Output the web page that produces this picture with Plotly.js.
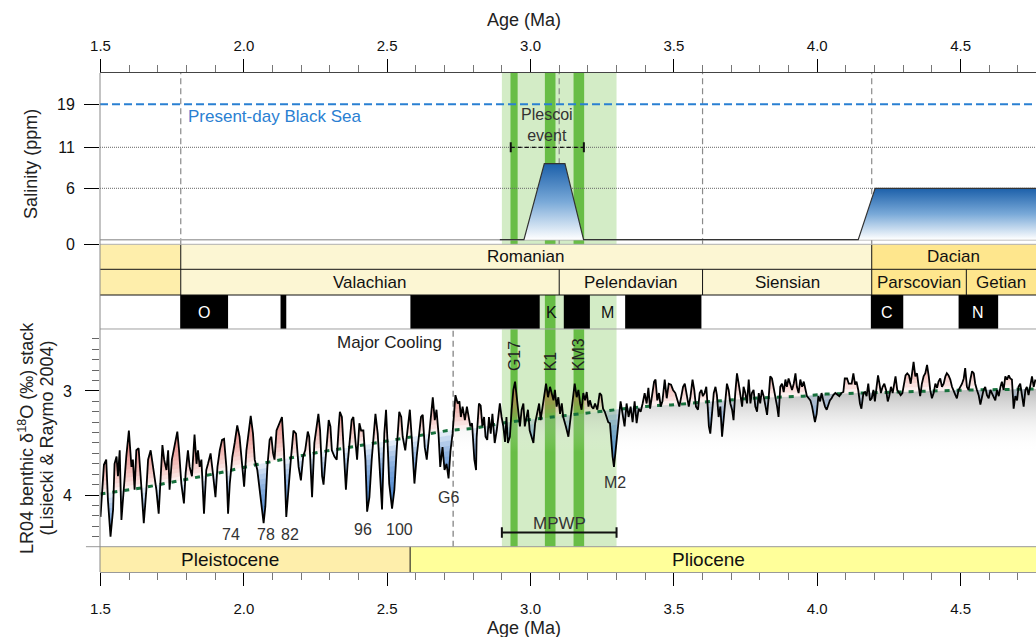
<!DOCTYPE html>
<html><head><meta charset="utf-8">
<script src="https://cdn.plot.ly/plotly-3.0.1.min.js"></script>
<style>html,body{margin:0;padding:0;background:#fff}#chart{width:1036px;height:637px}</style>
</head><body><div id="chart"></div>
<script>
// ---------------- DATA ----------------
// LR04 benthic d18O stack
const lrAge = [
1.500,1.505,1.512,1.520,1.526,1.535,1.544,1.549,1.556,1.561,1.567,1.573,1.582,1.590,1.599,1.608,1.613,1.619,1.625,1.633,
1.640,1.651,1.660,1.666,1.675,1.683,1.689,1.695,1.703,1.710,1.716,1.722,1.730,1.736,1.741,1.749,1.759,1.768,1.774,1.782,
1.791,1.797,1.805,1.811,1.819,1.828,1.835,1.840,1.846,1.852,1.861,1.869,1.875,1.884,1.892,1.901,1.908,1.916,1.924,1.931,
1.939,1.945,1.951,1.960,1.968,1.977,1.985,1.991,2.001,2.009,2.017,2.024,2.032,2.038,2.047,2.055,2.063,2.069,2.075,2.082,
2.090,2.096,2.102,2.107,2.114,2.125,2.133,2.140,2.148,
2.164,2.173,2.182,2.191,2.199,2.207,2.214,2.223,2.228,2.238,2.246,2.254,2.260,2.266,2.273,2.278,2.287,2.296,2.302,2.307,
2.316,2.324,2.331,2.335,2.342,2.347,2.356,2.362,2.368,2.376,2.382,2.389,2.395,2.403,2.409,2.417,2.424,2.430,2.438,2.446,
2.453,2.459,2.467,2.473,2.482,2.490,2.496,2.502,2.507,2.517,2.525,2.533,2.542,2.549,2.554,2.563,2.571,2.579,2.586,2.595,
2.603,2.610,2.618,2.624,2.631,2.638,2.645,2.652,2.659,2.666,2.672,2.679,2.685,2.693,2.700,2.707,2.714,2.721,2.728,2.738,
2.746,2.752,2.757,2.763,2.771,2.778,2.784,2.790,2.796,2.804,2.810,
2.812,2.820,2.826,2.832,2.838,2.843,2.849,2.855,2.861,2.867,2.875,2.882,2.888,2.893,2.899,2.905,2.911,2.916,2.921,2.928,
2.934,2.940,2.946,2.952,2.957,2.963,2.969,2.975,2.980,2.985,2.991,2.997,3.003,3.010,3.016,3.024,3.030,3.035,3.041,3.047,
3.054,3.061,3.068,3.074,3.080,3.085,3.091,3.097,3.103,3.109,3.114,3.123,3.132,3.140,3.147,3.154,3.161,3.167,3.173,3.178,
3.184,3.190,3.196,3.202,3.207,3.213,3.219,3.225,3.233,3.241,3.247,3.253,3.259,3.266,3.271,3.277,3.282,3.286,3.291,3.297,
3.303,3.309,3.314,3.321,3.328,3.335,3.342,3.349,3.356,3.363,3.370,3.377,3.384,3.391,3.398,3.405,3.411,3.417,3.424,3.431,
3.436,3.442,3.448,3.454,3.460,
3.468,3.475,3.482,3.490,3.497,3.505,3.512,3.519,3.526,3.532,3.538,3.545,3.552,3.558,3.565,3.571,3.577,3.584,3.590,3.596,
3.601,3.607,3.613,3.618,3.622,3.627,3.633,3.639,3.645,3.650,3.656,3.662,3.668,3.674,3.679,3.685,3.691,3.697,3.703,3.708,
3.714,3.720,3.726,3.732,3.738,3.743,3.749,3.755,3.761,3.767,3.772,3.778,3.784,3.790,3.796,3.801,3.807,3.813,3.819,3.825,
3.831,3.836,3.842,3.848,3.854,3.860,3.865,3.871,3.877,3.883,3.889,3.894,3.900,3.906,3.912,3.918,3.924,3.929,3.935,3.941,
3.947,3.953,3.958,3.964,3.970,3.976,3.982,3.987,3.992,3.998,4.004,4.010,4.015,4.021,4.027,4.033,4.039,4.044,4.050,4.056,
4.063,4.070,4.077,4.084,4.091,4.096,4.104,4.110,
4.120,4.126,4.132,4.137,4.143,4.149,4.154,4.161,4.167,4.172,4.178,4.184,4.190,4.196,4.201,4.207,4.212,4.217,4.222,4.228,
4.234,4.240,4.246,4.251,4.257,4.263,4.269,4.273,4.279,4.285,4.291,4.297,4.303,4.308,4.314,4.320,4.326,4.332,4.336,4.342,
4.348,4.354,4.359,4.365,4.371,4.377,4.383,4.389,4.394,4.400,4.406,4.412,4.418,4.423,4.429,4.435,4.441,4.447,4.452,4.458,
4.464,4.470,4.476,4.482,4.487,4.493,4.499,4.505,4.511,4.516,4.522,4.528,4.534,4.540,4.546,4.551,4.557,4.563,4.569,4.575,
4.580,4.586,4.592,4.598,4.604,4.609,4.615,4.621,4.627,4.633,4.639,4.644,4.650,4.656,4.662,4.668,4.673,4.679,4.685,4.691,
4.697,4.702,4.708,4.714,4.720,4.726,4.731,4.737,4.743,4.749,4.755,4.761];
const lrD18O = [
4.21,4.02,3.71,3.66,4.05,4.40,4.14,3.70,3.63,3.82,3.57,4.24,3.89,3.63,3.38,3.73,3.66,3.95,3.57,3.55,
3.82,4.27,3.95,3.66,3.57,3.73,3.82,3.95,4.18,3.76,3.52,3.66,3.76,3.57,3.95,3.66,3.50,3.39,3.57,3.89,
4.08,3.79,3.57,3.73,3.82,3.42,3.70,3.57,3.73,3.66,4.18,3.76,3.70,3.60,3.79,4.02,3.73,3.57,3.47,3.46,
3.73,4.18,3.89,3.63,3.50,3.33,3.44,3.60,3.92,3.57,3.38,3.24,3.41,3.66,3.76,3.95,4.11,4.27,4.11,3.73,
3.47,3.44,3.60,3.66,3.38,3.31,3.25,3.57,4.21,
3.66,3.38,3.41,3.73,3.86,3.63,3.57,3.39,3.44,4.02,3.50,3.34,3.22,3.38,3.82,3.90,3.57,3.28,3.34,3.57,
3.63,3.66,3.34,3.20,3.25,3.50,3.95,3.70,3.50,3.28,3.25,3.44,3.66,3.31,3.38,3.38,3.66,4.16,4.02,3.66,
3.38,3.22,3.41,3.76,4.14,3.41,3.18,3.54,3.89,4.13,3.95,3.57,3.20,3.25,3.44,3.57,3.38,3.18,3.47,3.89,
3.63,3.44,3.25,3.23,3.54,3.66,3.44,3.25,3.06,3.28,3.18,3.41,3.73,3.54,3.76,3.70,3.84,3.57,3.41,3.04,
3.12,3.10,3.25,3.15,3.28,3.15,3.25,3.34,3.31,3.66,3.76,
3.45,3.12,3.14,3.34,3.25,3.44,3.47,3.25,3.41,3.22,3.50,3.38,3.25,3.12,3.25,3.34,3.49,3.25,3.50,3.44,
3.18,2.99,2.91,3.06,3.25,3.34,3.18,3.12,3.34,3.25,3.18,3.38,3.44,3.50,3.31,3.18,3.12,3.28,3.15,3.06,
2.93,3.06,2.96,3.02,3.09,2.99,3.15,3.06,3.22,3.12,3.25,3.34,3.44,3.25,3.09,2.93,3.06,2.99,3.12,3.18,
3.02,3.09,3.01,3.15,3.09,3.15,3.17,3.12,3.18,3.02,3.04,3.17,3.20,3.25,3.30,3.31,3.50,3.63,3.73,3.57,
3.34,3.25,3.10,3.22,3.34,3.12,3.25,3.15,3.30,3.10,3.31,3.17,3.20,3.12,3.02,3.12,2.97,3.17,3.04,2.91,
2.89,3.09,3.02,3.15,3.10,
2.89,3.07,2.93,2.94,2.99,3.02,3.10,3.15,3.05,2.96,2.93,3.04,3.15,3.05,2.89,2.99,3.15,3.18,3.02,2.99,
3.05,3.02,2.96,3.15,3.34,3.41,3.22,3.02,2.96,3.04,3.25,3.15,3.44,3.25,3.09,2.93,2.99,3.12,3.18,3.28,
3.02,2.83,2.93,3.05,3.15,2.96,3.02,3.12,2.89,3.12,3.02,2.99,3.15,3.20,3.02,3.12,2.99,3.05,3.15,3.23,
3.05,2.86,2.88,2.96,3.07,3.15,3.25,2.96,2.93,3.01,2.89,2.96,2.88,2.93,2.99,2.93,2.83,2.96,3.02,2.89,
2.96,2.91,2.99,3.05,3.07,3.09,3.15,3.25,3.30,3.22,3.05,3.10,3.02,3.09,3.15,3.18,3.12,3.09,3.07,3.04,
3.02,3.04,3.05,3.02,3.01,2.88,2.88,2.93,
2.93,2.83,2.94,2.91,2.99,3.12,3.17,3.02,3.01,3.05,2.93,3.09,3.07,2.99,3.10,2.96,2.85,2.93,3.02,2.96,
2.93,2.99,3.10,3.05,2.96,3.02,2.89,2.86,2.99,3.02,3.04,3.02,2.93,2.85,2.83,2.85,2.93,2.80,2.72,2.86,
2.83,2.96,3.05,2.93,2.86,2.83,2.75,2.86,2.99,3.07,3.02,2.93,2.97,2.91,2.88,2.96,2.93,2.86,2.83,2.85,
2.89,2.96,3.01,3.04,3.07,2.99,2.96,2.93,2.88,2.78,2.96,2.99,2.89,2.81,2.83,2.93,2.99,3.04,3.13,3.05,
2.99,2.96,3.04,3.07,2.99,3.02,3.05,3.09,2.99,3.05,2.96,2.91,2.99,2.86,2.89,2.85,2.88,2.89,3.17,3.05,
3.09,2.96,2.93,3.02,3.15,2.99,2.96,3.04,2.93,2.86,2.96,2.89];

// long-term trend (green dashed)
const trendAge  = [1.50,1.65,1.78,1.91,2.04,2.17,2.26,2.35,2.44,2.53,2.61,2.71,2.80,2.92,3.01,3.11,3.20,3.28,3.36,3.44,3.49,3.59,3.68,3.77,3.85,3.95,4.03,4.14,4.25,4.39,4.53,4.67,4.77];
const trendD18O = [3.99,3.93,3.86,3.79,3.71,3.64,3.59,3.55,3.51,3.47,3.43,3.38,3.36,3.30,3.27,3.24,3.21,3.18,3.16,3.14,3.135,3.11,3.09,3.07,3.06,3.05,3.03,3.02,3.01,3.00,2.99,2.985,2.98];

// salinity reconstruction (ppm)
const salAge = [2.893, 2.977, 3.048, 3.120, 3.185, 4.143, 4.202, 4.80];
const salPpm = [0.5, 0.5, 9, 9, 0.5, 0.5, 6, 6];
const salTickPpm = [0, 6, 11, 19];
const blackSeaPpm = 19;
const plescoiAge = [2.931, 3.186];
const plescoiPpm = 11;

// climate intervals
const mpwpAge = [2.9, 3.3];
const warmName  = ['G17', 'K1', 'KM3'];
const warmStart = [2.93, 3.05, 3.15];
const warmEnd   = [2.955, 3.087, 3.187];
const coolingAge = 2.73;

// marine isotope stage labels
const misLabel = ['74','78','82','96','100','G6','M2'];
const misAge   = [1.956, 2.077, 2.160, 2.414, 2.544, 2.713, 3.296];
const misD18O  = [4.38, 4.38, 4.38, 4.33, 4.33, 4.02, 3.88];

// regional stages
const stage1Name  = ['', 'Romanian', 'Dacian'];
const stage1Start = [1.2, 1.78, 4.19];
const stage1End   = [1.78, 4.19, 4.9];
const stage2Name  = ['', 'Valachian', 'Pelendavian', 'Siensian', 'Parscovian', 'Getian'];
const stage2Start = [1.2, 1.78, 3.1, 3.6, 4.19, 4.52];
const stage2End   = [1.78, 3.1, 3.6, 4.19, 4.52, 4.9];
const dashedBoundaries = [1.78, 3.1, 3.6, 4.19];

// geomagnetic polarity (normal intervals) and subchron labels
const normalStart = [1.778, 2.128, 2.581, 3.116, 3.330, 4.187, 4.493];
const normalEnd   = [1.945, 2.148, 3.032, 3.207, 3.596, 4.300, 4.631];
const subchronName  = ['O', 'K', 'M', 'C', 'N'];
const subchronStart = [1.778, 3.032, 3.207, 4.187, 4.493];
const subchronEnd   = [1.945, 3.116, 3.330, 4.300, 4.631];

// epochs
const epochName  = ['Pleistocene', 'Pliocene'];
const epochStart = [1.2, 2.58];
const epochEnd   = [2.58, 5.33];
const epochLabelAge = [1.95, 3.62];

// ---------------- LAYOUT GEOMETRY ----------------
const FONT = 'Liberation Sans, Arial, Helvetica, sans-serif';
const X_RANGE = [1.4983, 4.763];
const P = {salBottom:0.6567, row1Bottom:0.6066, row2Bottom:0.5551, polBottom:0.4870, d18Bottom:0.0507};
const SAL_TICK_POS = [0, 56, 97, 140];     // non-linear salinity scale (axis units)
const SAL_TOP = 171.3;
const GRAY_BOTTOM = 3.59;

function interp(xs, ys, x){
  const n = xs.length;
  if (x <= xs[0]) return ys[0];
  if (x >= xs[n-1]) return ys[n-1];
  let i = 1; while (xs[i] < x) i++;
  const f = (x - xs[i-1]) / (xs[i] - xs[i-1]);
  return ys[i-1] + f * (ys[i] - ys[i-1]);
}
const sal2pos = s => interp(salTickPpm, SAL_TICK_POS, s);

const traces = [];
traces.push({type:'scatter', x:[], y:[], xaxis:'x2', yaxis:'y2', showlegend:false, hoverinfo:'skip'});

// ---- salinity fills ----
function salBlock(i0, i1){
  const xs = salAge.slice(i0, i1+1), ys = salPpm.slice(i0, i1+1);
  const base = salPpm[i0];
  if (ys[ys.length-1] !== base){ xs.push(xs[xs.length-1]); ys.push(base); }
  const top = Math.max(...ys);
  traces.push({type:'scatter', mode:'lines', x:xs, y:ys.map(sal2pos), xaxis:'x', yaxis:'y2',
    fill:'toself', fillcolor:'#5a90c8', line:{width:0}, hoverinfo:'skip', showlegend:false,
    fillgradient:{type:'vertical', start:sal2pos(top), stop:sal2pos(base),
      colorscale:[[0,'#1c60aa'],[0.5,'#79a9d8'],[1,'#ffffff']]}});
}
salBlock(1, 4);
salBlock(5, 7);
traces.push({type:'scatter', mode:'lines', x:salAge, y:salPpm.map(sal2pos), xaxis:'x', yaxis:'y2',
  line:{color:'#333', width:1.2}, hoverinfo:'skip', showlegend:false});

// ---- gray gradient below the trend (after Major Cooling) ----
(function(){
  const gx = [coolingAge], gy = [interp(trendAge, trendD18O, coolingAge)];
  trendAge.forEach((a,i)=>{ if (a > coolingAge){ gx.push(a); gy.push(trendD18O[i]); } });
  gx.push(gx[gx.length-1], coolingAge); gy.push(GRAY_BOTTOM, GRAY_BOTTOM);
  traces.push({type:'scatter', mode:'lines', x:gx, y:gy, fill:'toself', fillcolor:'rgba(180,180,180,0.3)',
    line:{width:0}, hoverinfo:'skip', showlegend:false,
    fillgradient:{type:'vertical', start:2.98, stop:GRAY_BOTTOM,
      colorscale:[[0,'rgba(120,120,120,0.5)'],[1,'rgba(255,255,255,0)']]}});
})();

// ---- red / blue anomaly fills: stacked translucent levels relative to the trend ----
const lrTrend = lrAge.map(a => interp(trendAge, trendD18O, a));
function levelFill(off, deeper, color){
  const X = [], Y = [];
  let rx = [], ry = [], rb = [];
  const flush = () => {
    if (rx.length > 1){
      X.push(...rx, ...rx.slice().reverse(), null);
      Y.push(...ry, ...rb.slice().reverse(), null);
    }
    rx = []; ry = []; rb = [];
  };
  const inside = (y, b) => deeper ? y > b : y < b;
  let px, py, pb;
  for (let i=0;i<lrAge.length;i++){
    const x = lrAge[i], y = lrD18O[i], b = lrTrend[i] + off;
    if (i > 0){
      const d0 = py - pb, d1 = y - b;
      if (d0*d1 < 0){
        const f = d0/(d0-d1), cx = px + f*(x-px), cy = py + f*(y-py);
        rx.push(cx); ry.push(cy); rb.push(cy);
        if (inside(py, pb)) flush();
      }
    }
    if (inside(y, b)){ rx.push(x); ry.push(y); rb.push(b); }
    px = x; py = y; pb = b;
  }
  flush();
  traces.push({type:'scatter', mode:'lines', x:X, y:Y, fill:'toself', fillcolor:color,
    line:{width:0, simplify:false}, connectgaps:false, hoverinfo:'skip', showlegend:false});
}
for (let k=0;k<12;k++) levelFill(-0.04*k, false, 'rgba(230,95,85,0.10)');
for (let k=0;k<12;k++) levelFill(0.05*k, true, 'rgba(40,110,195,0.14)');

traces.push({type:'scatter', mode:'lines', x:trendAge, y:trendD18O, line:{color:'#16703c', width:3, dash:'5px,7px'},
  hoverinfo:'skip', showlegend:false});
traces.push({type:'scatter', mode:'lines', x:lrAge, y:lrD18O, line:{color:'#000', width:1.8},
  hoverinfo:'skip', showlegend:false});

// ---------------- SHAPES ----------------
const shapes = [];
const rectP = (x0,x1,y0,y1,fill,layer)=>({type:'rect',xref:'x',yref:'paper',x0,x1,y0,y1,fillcolor:fill,line:{width:0},layer:layer||'above'});
const lineP = (x0,x1,y0,y1,color,width,dash,layer,xref)=>({type:'line',xref:xref||'x',yref:'paper',x0,x1,y0,y1,line:{color,width,dash:dash||'solid'},layer:layer||'above'});

shapes.push(rectP(mpwpAge[0], mpwpAge[1], P.d18Bottom, 1, '#d3ecc6', 'below'));
warmStart.forEach((s,i)=>shapes.push(rectP(s, warmEnd[i], P.d18Bottom, 1, '#68bd46', 'below')));
dashedBoundaries.forEach(a=>shapes.push(lineP(a, a, P.salBottom, 1, '#8a8a8a', 1.2, '6px,4px', 'below')));
shapes.push(lineP(coolingAge, coolingAge, P.d18Bottom, P.polBottom, '#7a7a7a', 1.2, '6px,4px', 'below'));
shapes.push({type:'line', xref:'paper', yref:'y2', x0:0, x1:1, y0:sal2pos(0.5), y1:sal2pos(0.5), line:{color:'#aaa', width:1.5}, layer:'below'});
salTickPpm.forEach(v=>{ if (v>0 && v!==blackSeaPpm) shapes.push({type:'line', xref:'paper', yref:'y2', x0:0, x1:1, y0:sal2pos(v), y1:sal2pos(v), line:{color:'#666', width:1, dash:'1px,1px'}, layer:'below'}); });
shapes.push({type:'line', xref:'paper', yref:'y2', x0:0, x1:1, y0:sal2pos(blackSeaPpm), y1:sal2pos(blackSeaPpm), line:{color:'#2a80d2', width:2, dash:'8px,4px'}, layer:'below'});

const pY = sal2pos(plescoiPpm);
shapes.push({type:'line', xref:'x', yref:'y2', x0:plescoiAge[0], x1:plescoiAge[1], y0:pY, y1:pY, line:{color:'#111', width:1.3, dash:'4px,3px'}});
plescoiAge.forEach(a=>shapes.push({type:'line', xref:'x', yref:'y2', x0:a, x1:a, y0:pY-5, y1:pY+5, line:{color:'#111', width:2}}));
shapes.push({type:'line', xref:'x', yref:'y', x0:mpwpAge[0], x1:mpwpAge[1], y0:4.36, y1:4.36, line:{color:'#111', width:2}});
mpwpAge.forEach(a=>shapes.push({type:'line', xref:'x', yref:'y', x0:a, x1:a, y0:4.31, y1:4.41, line:{color:'#111', width:2}}));

const row1Fill = ['#feeeab', '#fcf6d3', '#fee68d'];
const row2Fill = ['#feeeab', '#fcf6d3', '#fcf6d3', '#fcf6d3', '#fee68d', '#fee68d'];
stage1Name.forEach((n,i)=>shapes.push(rectP(stage1Start[i], stage1End[i], P.row1Bottom, P.salBottom, row1Fill[i])));
stage2Name.forEach((n,i)=>shapes.push(rectP(stage2Start[i], stage2End[i], P.row2Bottom, P.row1Bottom, row2Fill[i])));
stage1Start.slice(1).forEach(a=>shapes.push(lineP(a, a, P.row1Bottom, P.salBottom, '#111', 1)));
stage2Start.slice(1).forEach(a=>shapes.push(lineP(a, a, P.row2Bottom, P.row1Bottom, '#111', 1)));
normalStart.forEach((s,i)=>shapes.push(rectP(s, normalEnd[i], P.polBottom, P.row2Bottom, '#000')));
const epochFill = ['#feeeab', '#ffff9a'];
epochName.forEach((n,i)=>shapes.push(rectP(epochStart[i], epochEnd[i], 0, P.d18Bottom, epochFill[i])));
shapes.push(lineP(epochEnd[0], epochEnd[0], 0, P.d18Bottom, '#111', 1));
shapes.push(lineP(0, 1, P.salBottom, P.salBottom, '#b0b0b0', 1, 'solid', 'above', 'paper'));
shapes.push(lineP(0, 1, P.row1Bottom, P.row1Bottom, '#111', 1, 'solid', 'above', 'paper'));
shapes.push(lineP(0, 1, P.row2Bottom, P.row2Bottom, '#111', 1, 'solid', 'above', 'paper'));
shapes.push(lineP(0, 1, P.polBottom, P.polBottom, '#a0a0a0', 1, 'solid', 'above', 'paper'));
shapes.push(lineP(-0.015, 1, P.d18Bottom, P.d18Bottom, '#999', 1, 'solid', 'above', 'paper'));
shapes.push(lineP(0, 0, 0, 1, '#888', 1, 'solid', 'above', 'paper'));

// ---------------- ANNOTATIONS ----------------
const ann = [];
function A(o, size, color){
  ann.push(Object.assign({showarrow:false, xanchor:'center', yanchor:'middle',
    font:{family:FONT, size:size||16, color:color||'#222'}}, o));
}
A({text:'Age (Ma)', xref:'paper', yref:'paper', x:0.453, y:1.1062}, 18);
A({text:'Age (Ma)', xref:'paper', yref:'paper', x:0.453, y:-0.1122}, 18);
A({text:'Salinity (ppm)', xref:'paper', yref:'paper', x:-0.073, y:0.8172, textangle:-90}, 18);
A({text:'LR04 benthic δ<sup>18</sup>O (‰) stack', xref:'paper', yref:'paper', x:-0.0791, y:0.2685, textangle:-90}, 18);
A({text:'(Lisiecki & Raymo 2004)', xref:'paper', yref:'paper', x:-0.0561, y:0.2685, textangle:-90}, 18);
A({text:'Present-day Black Sea', xref:'x', yref:'paper', x:1.797, xanchor:'left', y:0.9124}, 17, '#2a80d2');
A({text:'Plescoi<br>event', xref:'x', yref:'paper', x:3.058, y:0.8958}, 16, '#333');
A({text:'Major Cooling', xref:'x', yref:'y', x:2.698, xanchor:'right', y:2.536}, 17);
misLabel.forEach((t,i)=>A({text:t, xref:'x', yref:'y', x:misAge[i], y:misD18O[i]}, 16, '#333'));
const warmLabelD = [2.664, 2.713, 2.648];
warmName.forEach((t,i)=>A({text:t, xref:'x', yref:'y', x:(warmStart[i]+warmEnd[i])/2, y:warmLabelD[i], textangle:-90}, 16, '#222'));
A({text:'MPWP', xref:'x', yref:'y', x:(mpwpAge[0]+mpwpAge[1])/2, y:4.275}, 17, '#333');
const vis = (s,e)=>(Math.max(s,X_RANGE[0]) + Math.min(e,X_RANGE[1]))/2;
stage1Name.forEach((t,i)=>{ if (t) A({text:t, xref:'x', yref:'paper', x:vis(stage1Start[i],stage1End[i]), y:0.6317}, 17, '#111'); });
stage2Name.forEach((t,i)=>{ if (t) A({text:t, xref:'x', yref:'paper', x:vis(stage2Start[i],stage2End[i]), y:0.5808}, 17, '#111'); });
subchronName.forEach((t,i)=>{
  const mid = (subchronStart[i]+subchronEnd[i])/2;
  const isNormal = normalStart.some((s,j)=>mid>s && mid<normalEnd[j]);
  A({text:t, xref:'x', yref:'paper', x:mid, y:0.521}, 16, isNormal ? '#fff' : '#111');
});
epochName.forEach((t,i)=>A({text:t, xref:'x', yref:'paper', x:epochLabelAge[i], y:0.0254}, 19, '#111'));

// ---------------- LAYOUT ----------------
const xCommon = {range:X_RANGE, ticks:'outside', ticklen:13, tickwidth:1, tickcolor:'#000', tick0:1.5, dtick:0.5,
  tickformat:'.1f', tickfont:{family:FONT, size:15, color:'#111'}, showgrid:false, zeroline:false, fixedrange:true,
  minor:{dtick:0.1, ticklen:7, tickcolor:'#777', ticks:'outside', showgrid:false}};
const layout = {
  width:1036, height:637, margin:{l:100, r:0, t:73, b:65},
  paper_bgcolor:'#fff', plot_bgcolor:'rgba(0,0,0,0)', showlegend:false, hovermode:false,
  font:{family:FONT, color:'#222'},
  xaxis:Object.assign({}, xCommon, {anchor:'free', position:0, side:'bottom', showline:true, linecolor:'#999', ticklabelstandoff:10}),
  xaxis2:Object.assign({}, xCommon, {overlaying:'x', anchor:'y2', side:'top', showline:true, linecolor:'#444', ticklabelstandoff:2}),
  yaxis:{domain:[P.d18Bottom, P.polBottom], range:[4.497, 2.404], anchor:'x', tick0:3, dtick:1,
    ticks:'outside', ticklen:14, tickcolor:'#000', tickfont:{family:FONT, size:16, color:'#111'},
    minor:{dtick:0.1, ticklen:7, tickcolor:'#666', ticks:'outside', showgrid:false},
    showgrid:false, zeroline:false, showline:false, ticklabelstandoff:10, fixedrange:true},
  yaxis2:{domain:[P.salBottom, 1], range:[0, SAL_TOP], anchor:'x', tickmode:'array',
    tickvals:salTickPpm.map(sal2pos), ticktext:salTickPpm.map(String),
    ticks:'outside', ticklen:15, tickcolor:'#000', tickfont:{family:FONT, size:16, color:'#111'},
    showgrid:false, zeroline:false, showline:false, ticklabelstandoff:6, fixedrange:true},
  shapes:shapes, annotations:ann
};
Plotly.newPlot('chart', traces, layout, {staticPlot:true, displayModeBar:false});
</script></body></html>
